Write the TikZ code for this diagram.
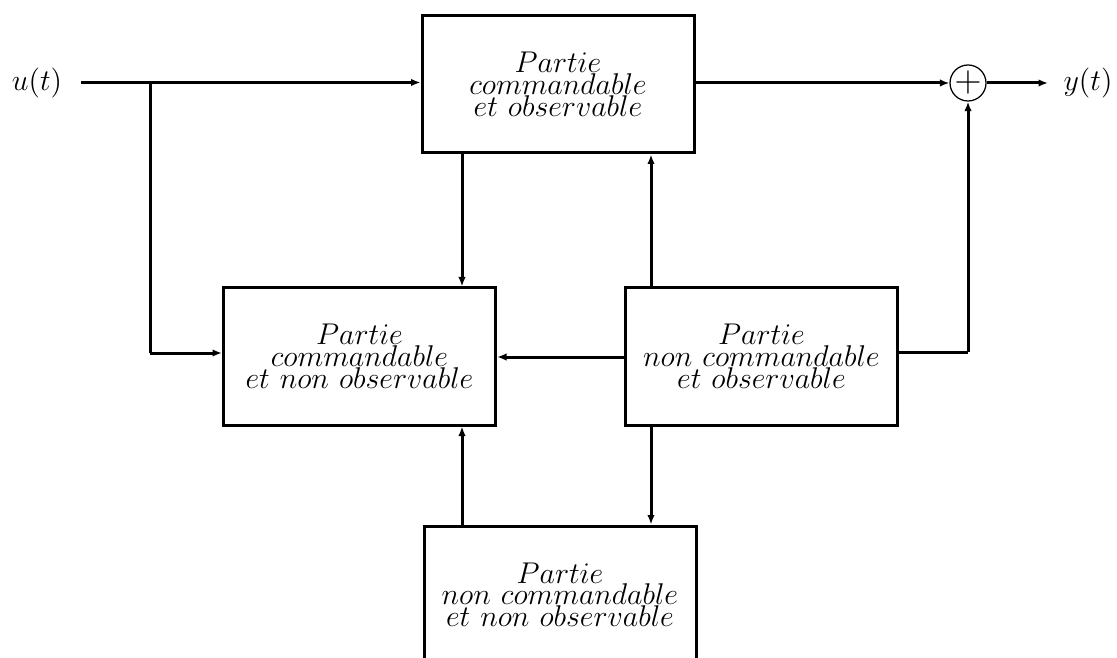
\documentclass[tikz,border=0pt]{standalone}
\usetikzlibrary{arrows.meta}
\begin{document}
\begin{tikzpicture}[x=0.4pt,y=-0.4pt,
  lw/.style={line width=1.2pt},
  arr/.style={lw,-{Latex[length=3.8pt,width=3pt]}},
  blk/.style={draw,lw,minimum width=108.8pt,minimum height=54.8pt,inner sep=0pt,align=center,
    font=\fontsize{12.4}{8.7}\selectfont},
  sumnode/.style={draw,circle,line width=0.5pt,minimum size=13pt,inner sep=0pt,font=\fontsize{14}{14}\selectfont},
  lbl/.style={inner sep=0pt,font=\fontsize{12.4}{13}\selectfont}]
\useasboundingbox (0,0) rectangle (1117,658);
\node[blk] (top) at (558,84.5) {$Partie$\\$commandable$\\$et\ observable$};
\node[blk] (left) at (359.5,356.5) {$Partie$\\$commandable$\\$et\ non\ observable$};
\node[blk] (right) at (761.5,356.5) {$Partie$\\$non\ commandable$\\$et\ observable$};
\node[blk] (bot) at (560,594.5) {$Partie$\\$non\ commandable$\\$et\ non\ observable$};
\node[sumnode] (sum) at (968,83) {$+$};
\node[lbl] (u) at (37,83) {$u(t)$};
\node[lbl] (y) at (1088,83) {$y(t)$};
\coordinate (uin) at (81,82.5);
\coordinate (b1) at (150,82.5);
\coordinate (b2) at (150,353);
\coordinate (yout) at (1048,83);
\coordinate (cL) at (462,0);
\coordinate (cR) at (651,0);
\coordinate (hm) at (0,357);
\coordinate (hr) at (968,352);
\draw[arr] (uin) -- (uin -| top.west);
\draw[lw] (b1) -- (b2);
\draw[arr] (b2) -- (b2 -| left.west);
\draw[arr] (top.east |- sum) -- (sum.west);
\draw[arr] (sum.east) -- (yout);
\draw[arr] (top.south -| cL) -- (left.north -| cL);
\draw[arr] (right.north -| cR) -- (top.south -| cR);
\draw[arr] (right.west |- hm) -- (left.east |- hm);
\draw[lw] ([xshift=-1.2pt]right.east |- hr) -- (hr);
\draw[arr] (hr) -- (sum.south);
\draw[arr] (right.south -| cR) -- (bot.north -| cR);
\draw[arr] (bot.north -| cL) -- (left.south -| cL);
\end{tikzpicture}
\end{document}
